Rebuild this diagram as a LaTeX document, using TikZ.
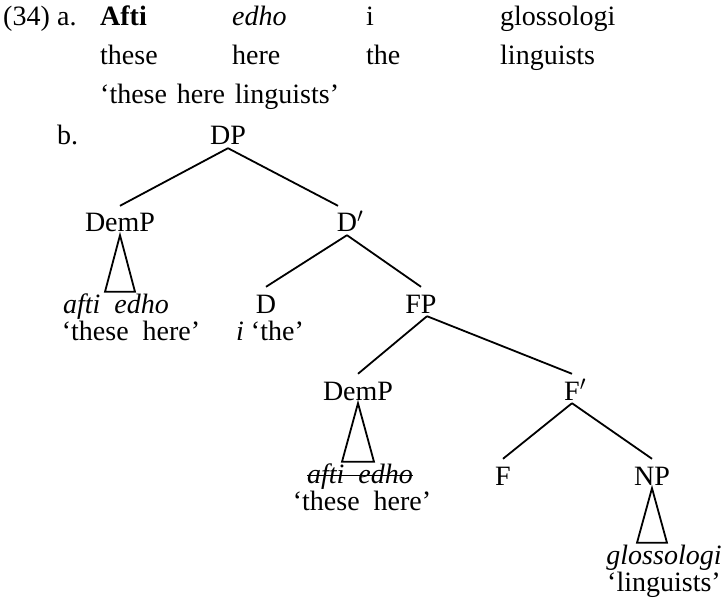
\documentclass[tikz,border=0pt]{standalone}
\usepackage{fontspec}
\setmainfont{Liberation Serif}
\usetikzlibrary{calc}
\tikzset{
  word/.style={anchor=base west, inner sep=0pt},
  cat/.style={anchor=base, inner sep=0pt, text height=26pt, text depth=3pt},
  leaf/.style={anchor=base, inner sep=0pt, text height=21pt, text depth=6pt},
  branch/.style={line width=1.8pt},
  roof/.style={line width=1.8pt, line join=miter},
  strike/.style={line width=1pt}
}
\newcommand{\gap}{\hspace{.5em}}
\begin{document}
\begin{tikzpicture}[x=1pt, y=-1pt, font=\fontsize{28}{32}\selectfont]
\useasboundingbox (0,0) rectangle (726,604);

% example (34a): words, glosses, translation
\node[word] (num)  at (3,26)   {(34)};
\node[word] (lbla) at (57,26)  {a.};
\node[word] (w1)   at (100,26) {\textbf{Afti}};
\node[word] (w2)   at (232,26) {\textit{edho}};
\node[word] (w3)   at (366,26) {i};
\node[word] (w4)   at (500,26) {glossologi};
\node[word] (g1)   at (100,65) {these};
\node[word] (g2)   at (232,65) {here};
\node[word] (g3)   at (366,65) {the};
\node[word] (g4)   at (500,65) {linguists};
\node[word] (tr)   at (100,104) {`these\hspace{.35em}here\hspace{.35em}linguists'};

% example (34b): the tree
\node[word] (lblb) at (57,145) {b.};
\node[cat] (DP)    at (228,145) {DP};
\node[cat] (DemPa) at (120,232) {DemP};
\node[cat] (Dbar)  at (347,232) {D\rlap{$'$}};
\node[cat] (D)     at (266,313) {D};
\node[cat] (FP)    at (421,313) {FP};
\node[cat] (DemPb) at (358,400) {DemP};
\node[cat] (Fbar)  at (572,400) {F\rlap{$'$}};
\node[cat] (F)     at (503,485) {F};
\node[cat] (NP)    at (652,485) {NP};

\node[leaf] (la)  at (116,313) {\textit{afti\gap edho}};
\node[leaf] (lag) at (131,340) {`these\gap here'};
\node[leaf] (ld)  at (270,340) {\textit{i} `the'};
\node[leaf] (lb)  at (360,483) {\textit{afti\gap edho}};
\node[leaf] (lbg) at (362,510) {`these\gap here'};
\node[leaf] (ln)  at (664,564) {\textit{glossologi}};
\node[leaf] (lng) at (664,591) {`linguists'};

% branches
\draw[branch] (DP.south) -- (DemPa.north);
\draw[branch] (DP.south) -- ($(Dbar.north)+(-9,0)$);
\draw[branch] (Dbar.south) -- (D.north);
\draw[branch] (Dbar.south) -- (FP.north);
\draw[branch] ($(FP.south)+(6,0)$) -- (DemPb.north);
\draw[branch] ($(FP.south)+(6,0)$) -- (Fbar.north);
\draw[branch] (Fbar.south) -- (F.north);
\draw[branch] (Fbar.south) -- (NP.north);

% roofs over unanalysed phrases
\draw[roof] (DemPa.south) -- ($(DemPa.south |- la.north)+(-15,0)$) -- ($(DemPa.south |- la.north)+(15,0)$) -- cycle;
\draw[roof] (DemPb.south) -- ($(DemPb.south |- lb.north)+(-16,0)$) -- ($(DemPb.south |- lb.north)+(16,0)$) -- cycle;
\draw[roof] (NP.south) -- ($(NP.south |- ln.north)+(-15,0)$) -- ($(NP.south |- ln.north)+(15,0)$) -- cycle;

% the lower copy of the demonstrative is struck out
\draw[strike] ($(lb.base west)+(0,-8)$) -- ($(lb.base east)+(0,-8)$);
\end{tikzpicture}
\end{document}
